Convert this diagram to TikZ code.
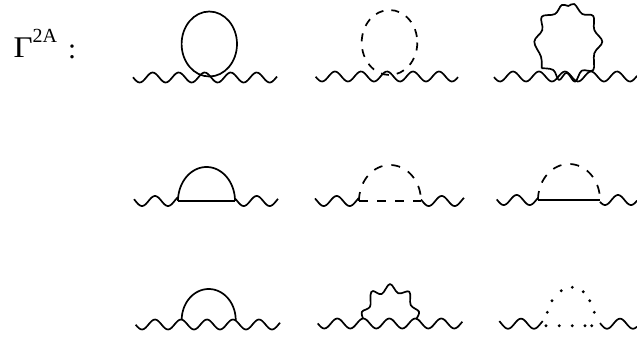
\documentclass[tikz,border=0pt]{standalone}
\usepackage{fontspec}
\setmainfont{Liberation Serif}

\tikzset{
  line/.style={line width=1.7pt, line join=round},
  dashline/.style={line, dash pattern=on 8pt off 8pt},
  longdash/.style={line, dash pattern=on 9pt off 9pt},
}

\newcommand{\wavyline}[4]{\draw[line] plot[domain=#1:#2,samples=90,smooth] (\x,{#3-5*cos((\x-#4)/26*360)});}
\newcommand{\halfloop}[5]{\draw[#1] plot[domain=180:360,samples=60] ({#2+#4*cos(\x)},{#3+#5*sin(\x)});}

\begin{document}
\begin{tikzpicture}[x=1pt,y=-1pt]
\useasboundingbox (0,0) rectangle (637,341);

% The label
\node[anchor=base west,inner sep=0pt,xscale=1.1,font=\fontsize{30}{30}\selectfont] (gamma) at (13.5,57.7) {Γ};
\node[anchor=base west,inner sep=0pt,font=\fontsize{20}{20}\selectfont] (power) at (32.5,42.5) {2A};
\node[anchor=base west,inner sep=0pt,font=\fontsize{29}{29}\selectfont] (colon) at (68,58.5) {:};

% The first row
\wavyline{133}{277}{77.5}{152.7}
\draw[line] (209.3,44) ellipse [x radius=27.7,y radius=32.5];

\wavyline{315.7}{458}{76.5}{335}
\draw[dashline] (389.5,42.5) ellipse [x radius=27.8,y radius=32.5];

\wavyline{494}{637}{76.5}{513}
\draw[line] plot[smooth,tension=0.6] coordinates {(541.7,68.3) (541,56.7) (534.3,41.7) (542.3,30) (541.7,16.7)
  (555,14) (561.7,5) (568.3,6) (574.3,4) (582.3,14) (593.3,16) (594.3,30) (602.3,41.7) (594.3,53.3)
  (593.3,70) (581.7,70.7) (575,81.7) (566.7,72.7) (559,80) (553.3,70) (541.7,68.3)};

% The second row
\wavyline{134}{178}{201}{155}
\wavyline{235}{278}{201}{256.7}
\halfloop{line}{206.5}{201}{28.5}{34}
\draw[line] (178,201) -- (235,201);

\wavyline{315}{359}{201}{336.7}
\wavyline{421}{464}{201}{441.7}
\halfloop{longdash}{390}{201}{31}{36}
\draw[longdash] (359,201) -- (421,201);

\wavyline{496.7}{538}{200}{516.7}
\wavyline{600}{637}{200}{618}
\halfloop{longdash}{569}{200}{31}{36}
\draw[line] (538,200) -- (600,200);

% The third row
\wavyline{135.7}{280}{324.5}{155}
\halfloop{line}{208.7}{320}{27}{31}

\wavyline{317.7}{462.3}{323.5}{337.3}
\draw[line] plot[smooth,tension=0.6] coordinates {(363,318.3) (362,311.7) (370,306.7) (370.5,295) (373,291)
  (381.7,294) (390,284) (398.3,293.3) (409.3,291.7) (410.7,305) (419,311.7) (416,319.3)};

\wavyline{499.3}{542.7}{323.7}{521}
\wavyline{600}{637}{323.7}{620}
\foreach \px/\py in {546/325.7,559.3/325.7,572.3/325.7,585/325.7,591.7/325.7,
  547.3/312.3,552/300.7,561.3/290.7,572.3/287.3,583.3/291.7,589.7/300.7,594.3/312.3}
  \fill (\px,\py) circle (1.6);

\end{tikzpicture}
\end{document}
